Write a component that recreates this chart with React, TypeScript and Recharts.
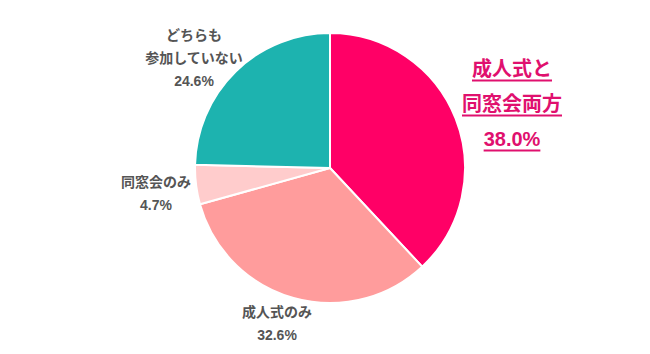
import React from 'react';
import { PieChart, Pie, Cell } from 'recharts';

const categories = ['成人式と同窓会両方', '成人式のみ', '同窓会のみ', 'どちらも参加していない'];
const labelLines = [['成人式と', '同窓会両方'], ['成人式のみ'], ['同窓会のみ'], ['どちらも', '参加していない']];
const values = [38.0, 32.6, 4.7, 24.6];
const colors = ['#FF0066', '#FF9C9C', '#FFCCCC', '#1DB3AF'];

const data = categories.map((name, i) => ({ name, value: values[i] }));

// label block centre offsets from the pie centre (layout only)
const labelOffsets: [number, number][] = [
  [182, -64.5],
  [-53, 155],
  [-174, 25],
  [-136, -110.5],
];

const renderLabel = (props: any) => {
  const { cx, cy, index } = props;
  const x = cx + labelOffsets[index][0];
  const y = cy + labelOffsets[index][1];
  const lines: string[] = [...labelLines[index], `${values[index].toFixed(1)}%`];
  const highlight = index === 0;
  const lh = highlight ? 35 : 23;
  const startY = y - ((lines.length - 1) * lh) / 2;
  return (
    <g>
      {lines.map((t, k) => (
        <text
          key={k}
          x={x}
          y={startY + k * lh}
          textAnchor="middle"
          dominantBaseline="central"
          fill={highlight ? '#E0106E' : '#555555'}
          fontSize={highlight ? 20 : 14}
          fontWeight="bold"
          fontFamily="'Liberation Sans', 'Noto Sans CJK JP', sans-serif"
          textDecoration={highlight ? 'underline' : undefined}
        >
          {t}
        </text>
      ))}
    </g>
  );
};

export default function App() {
  return (
    <div style={{ position: 'absolute', left: 0, top: 0, background: '#fff' }}>
      <PieChart width={650} height={354}>
        <Pie
          data={data}
          dataKey="value"
          cx={325}
          cy={163}
          outerRadius={135}
          startAngle={90}
          endAngle={-270}
          stroke="#ffffff"
          strokeWidth={2}
          label={renderLabel}
          labelLine={false}
          isAnimationActive={false}
        >
          {data.map((d, i) => (
            <Cell key={d.name} fill={colors[i]} />
          ))}
        </Pie>
      </PieChart>
    </div>
  );
}
